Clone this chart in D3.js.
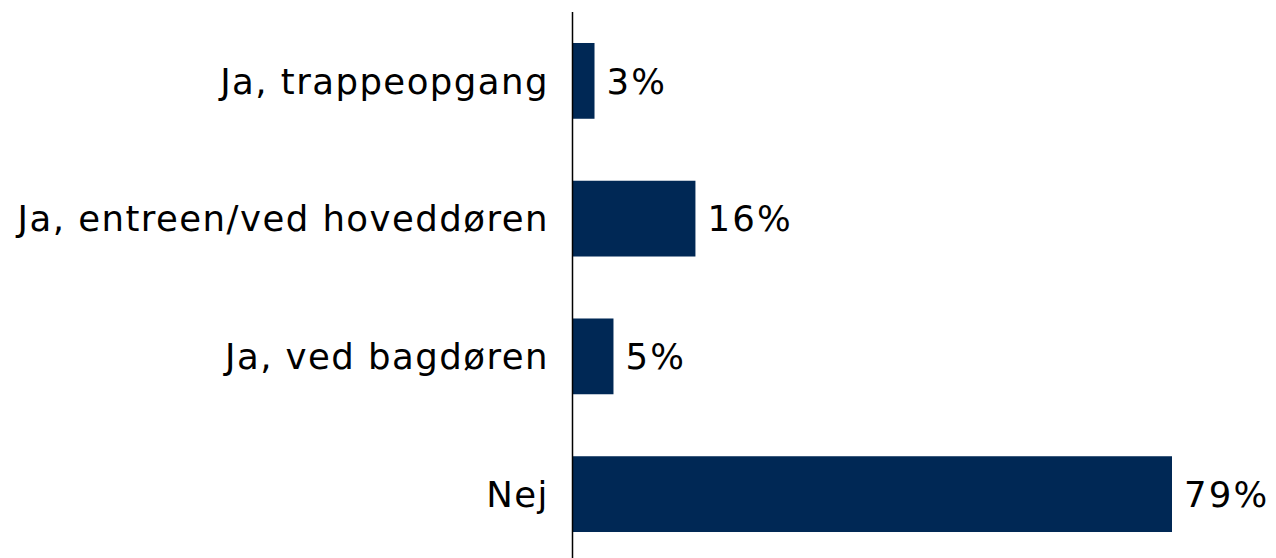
<!DOCTYPE html>
<html>
<head>
<meta charset="utf-8">
<script src="https://cdn.jsdelivr.net/npm/d3@7"></script>
<style>
  html, body { margin: 0; padding: 0; background: #fff; }
  svg { display: block; }
  text { font-family: "DejaVu Sans", Verdana, sans-serif; fill: #000; }
</style>
</head>
<body>
<svg id="chart" width="1276" height="558"></svg>
<script>
const categories = ["Ja, trappeopgang", "Ja, entreen/ved hoveddøren", "Ja, ved bagdøren", "Nej"];
const values = [2.9, 16.2, 5.4, 79.0];
const valueLabels = ["3%", "16%", "5%", "79%"];

const svg = d3.select("#chart");
const x0 = 572.5;
const x = d3.scaleLinear().domain([0, 79]).range([x0, 1172]);
const y = d3.scaleBand().domain(categories).range([12, 563]).paddingInner(0.45).paddingOuter(0.225);

const fontSize = 35.5;
const spacing = 1.45;

svg.selectAll("rect.bar")
  .data(categories)
  .join("rect")
  .attr("class", "bar")
  .attr("x", x(0))
  .attr("y", d => y(d))
  .attr("width", (d, i) => x(values[i]) - x(0))
  .attr("height", y.bandwidth())
  .attr("fill", "#002855");

// axis line
svg.append("line")
  .attr("x1", x0).attr("x2", x0)
  .attr("y1", 12).attr("y2", 558)
  .attr("stroke", "#000").attr("stroke-width", 1.5);

svg.selectAll("text.cat")
  .data(categories)
  .join("text")
  .attr("class", "cat")
  .attr("x", x0 - 25 + spacing)
  .attr("y", d => y(d) + y.bandwidth() / 2)
  .attr("dy", "0.36em")
  .attr("text-anchor", "end")
  .attr("font-size", fontSize)
  .attr("letter-spacing", spacing)
  .text(d => d);

svg.selectAll("text.val")
  .data(categories)
  .join("text")
  .attr("class", "val")
  .attr("x", (d, i) => x(values[i]) + 12)
  .attr("y", d => y(d) + y.bandwidth() / 2)
  .attr("dy", "0.36em")
  .attr("font-size", fontSize)
  .attr("letter-spacing", 2.2)
  .text((d, i) => valueLabels[i]);
</script>
</body>
</html>
